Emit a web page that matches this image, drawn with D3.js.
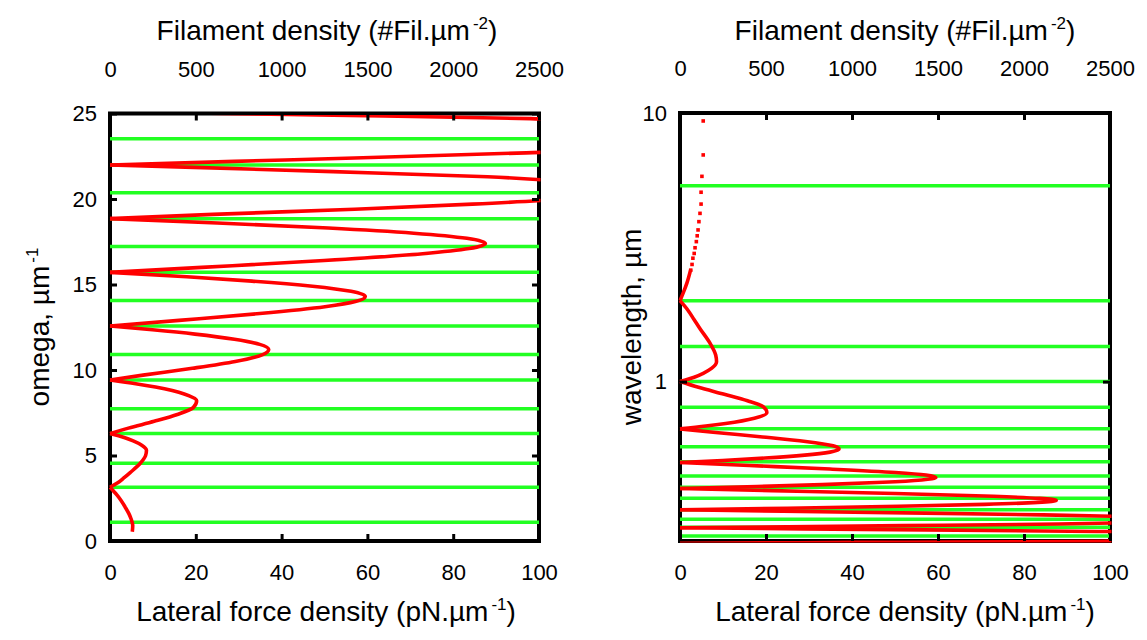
<!DOCTYPE html>
<html>
<head>
<meta charset="utf-8">
<script src="https://cdn.jsdelivr.net/npm/d3@7"></script>
<style>
  body { margin: 0; background: #fff; }
  text { font-family: "Liberation Sans", Arial, sans-serif; fill: #000; }
</style>
</head>
<body>
<svg id="chart" width="1147" height="640"></svg>
<script>
// tick values for every axis
var forceTicks = [0, 20, 40, 60, 80, 100];
var densityTicks = [0, 500, 1000, 1500, 2000, 2500];
var omegaTicks = [0, 5, 10, 15, 20, 25];
var lambdaTicks = [1, 10];

// green horizontal lines (left in omega, right in wavelength)
var greenOmega = [1.1, 3.14, 4.55, 6.28, 7.73, 9.42, 10.9, 12.57, 14.07, 15.71, 17.22, 18.85, 20.37, 21.99, 23.52];
var greenLambda = [5.36, 2.0, 1.35, 1.0, 0.802, 0.668, 0.572, 0.503, 0.445, 0.404, 0.368, 0.333, 0.307, 0.287, 0.266];

// red curve: lateral force density vs omega
var curveOmega = [
  0.54, 0.9, 1.3, 1.6, 2.0, 2.4, 2.7, 2.95, 3.14,
  3.4, 3.7, 4.0, 4.5, 5.0, 5.3, 5.6, 5.85, 6.05, 6.28,
  6.6, 7.0, 7.4, 7.8, 8.2, 8.6, 9.0, 9.2, 9.42,
  9.7, 10.1, 10.5, 10.9, 11.2, 11.5, 11.8, 12.1, 12.35, 12.57,
  12.9, 13.3, 13.7, 14.0, 14.3, 14.6, 14.9, 15.2, 15.45, 15.71,
  16.0, 16.4, 16.8, 17.1, 17.4, 17.7, 18.0, 18.3, 18.6, 18.85,
  19.1, 19.4, 19.7, 20.0, 20.5, 21.0, 21.3, 21.6, 21.85, 21.99,
  22.2, 22.4, 22.7, 23.0, 23.6, 24.2, 24.45, 24.7, 24.9, 25.0, 25.13
];
var curveForce = [
  5.2, 5.3, 4.9, 4.4, 3.5, 2.5, 1.6, 0.7, 0,
  1.8, 3.3, 4.7, 6.9, 8.3, 8.5, 7.4, 5.4, 3.3, 0,
  4.3, 10.3, 15.7, 19.4, 20.2, 17.3, 10.6, 6.0, 0,
  7.7, 19.2, 29.2, 35.6, 37.0, 34.9, 29.0, 19.8, 9.9, 0,
  16.1, 34.9, 50.1, 57.2, 59.5, 56.2, 47.2, 33.1, 17.9, 0,
  21.4, 49.9, 72.9, 83.7, 87.5, 83.2, 70.8, 50.9, 25.0, 0,
  24, 57, 84.5, 106, 121, 107, 88, 52, 19.5, 0,
  29, 57, 97, 135, 160, 135, 122, 98, 52, 27, 0
];

// sparse red points at long wavelengths (right panel)
var dotLambda = [9.34, 6.98, 5.81, 5.07, 4.58, 4.23, 3.94, 3.67, 3.49, 3.32, 3.15, 3.0, 2.88, 2.73, 2.6];
var dotForce = [5.4, 5.4, 5.1, 4.9, 4.9, 4.65, 4.4, 4.2, 4.0, 3.8, 3.5, 3.3, 3.0, 2.8, 2.5];

var RED = '#ff0000', GREEN = '#22ff22';
var svg = d3.select('#chart');

// scales
var xL = d3.scaleLinear().domain([0, 100]).range([110, 539]);
var xLtop = d3.scaleLinear().domain([0, 2500]).range([110, 539]);
var yL = d3.scaleLinear().domain([0, 25]).range([541, 113.5]);
var xR = d3.scaleLinear().domain([0, 100]).range([680, 1110]);
var xRtop = d3.scaleLinear().domain([0, 2500]).range([680, 1110]);
var yR = d3.scaleLog().domain([0.255, 10]).range([541, 113]);

// split the curve into lobes at every zero so the cusps stay sharp
function lobes(ws, fs) {
  var segs = [], cur = [];
  for (var i = 0; i < ws.length; i++) {
    cur.push([ws[i], fs[i]]);
    if (fs[i] === 0 && cur.length > 1) { segs.push(cur); cur = [[ws[i], 0]]; }
  }
  if (cur.length > 1) segs.push(cur);
  return segs;
}
var segs = lobes(curveOmega, curveForce);

function frame(x, y, id) {
  var r = [x.range()[0], y.range()[1], x.range()[1] - x.range()[0], y.range()[0] - y.range()[1]];
  svg.append('rect')
    .attr('x', r[0]).attr('y', r[1]).attr('width', r[2]).attr('height', r[3])
    .attr('fill', 'none').attr('stroke', '#000').attr('stroke-width', 4);
  // curve may sit on the side/bottom frame lines, but stops under the top one
  svg.append('clipPath').attr('id', id).append('rect')
    .attr('x', r[0] - 1.5).attr('y', r[1] + 1.5).attr('width', r[2] + 3).attr('height', r[3]);
}

function styleAxis(g) {
  g.attr('font-size', 22).attr('font-family', '"Liberation Sans", Arial, sans-serif');
  g.select('.domain').remove();
  g.selectAll('.tick line').attr('stroke', '#000').attr('stroke-width', 3);
}

function axes(x, xTop, y, yTicks, fmtY) {
  var xr = x.range(), yr = y.range();
  svg.append('g').attr('transform', 'translate(0,' + yr[0] + ')')
    .call(d3.axisBottom(x).tickValues(forceTicks).tickSize(-7).tickPadding(23)).call(styleAxis);
  svg.append('g').attr('transform', 'translate(0,' + yr[1] + ')')
    .call(d3.axisTop(xTop).tickValues(densityTicks).tickFormat(d3.format('d')).tickSize(-7).tickPadding(37)).call(styleAxis);
  svg.append('g').attr('transform', 'translate(' + xr[0] + ',0)')
    .call(d3.axisLeft(y).tickValues(yTicks).tickFormat(fmtY).tickSize(-7).tickPadding(13)).call(styleAxis);
  svg.append('g').attr('transform', 'translate(' + xr[1] + ',0)')
    .call(d3.axisRight(y).tickValues(yTicks).tickFormat('').tickSize(-7)).call(styleAxis);
}

// text with a superscript part
function label(x, y, main, sup) {
  var t = svg.append('text').attr('font-size', 28).attr('text-anchor', 'middle')
    .attr('transform', 'translate(' + x + ',' + y + ')');
  t.append('tspan').text(main);
  t.append('tspan').attr('font-size', 17).attr('dx', 3).attr('dy', -11).text(sup);
  t.append('tspan').attr('dy', 11).text(')');
}

// ---------- left panel (omega) ----------
frame(xL, yL, 'clipL');
svg.append('g').selectAll('line').data(greenOmega).enter().append('line')
  .attr('x1', xL(0)).attr('x2', xL(100))
  .attr('y1', function(d) { return yL(d); }).attr('y2', function(d) { return yL(d); })
  .attr('stroke', GREEN).attr('stroke-width', 3.5);

var lineL = d3.line()
  .x(function(d) { return xL(d[1]); })
  .y(function(d) { return yL(d[0]); })
  .curve(d3.curveMonotoneY);
svg.append('g').attr('clip-path', 'url(#clipL)').selectAll('path').data(segs).enter().append('path')
  .attr('d', lineL).attr('fill', 'none').attr('stroke', RED).attr('stroke-width', 3.6);

axes(xL, xLtop, yL, omegaTicks, d3.format('d'));

// ---------- right panel (wavelength = 2 pi / omega) ----------
frame(xR, yR, 'clipR');
svg.append('g').selectAll('line').data(greenLambda).enter().append('line')
  .attr('x1', xR(0)).attr('x2', xR(100))
  .attr('y1', function(d) { return yR(d); }).attr('y2', function(d) { return yR(d); })
  .attr('stroke', GREEN).attr('stroke-width', 3.5);

var lineR = d3.line()
  .x(function(d) { return xR(d[1]); })
  .y(function(d) { return yR(2 * Math.PI / d[0]); })
  .curve(d3.curveMonotoneY);
var segsR = segs.map(function(s) {
  return s.filter(function(d) { return d[0] >= 2.4; });
}).filter(function(s) { return s.length > 1; });
var gR = svg.append('g').attr('clip-path', 'url(#clipR)');
gR.selectAll('path').data(segsR).enter().append('path')
  .attr('d', lineR).attr('fill', 'none').attr('stroke', RED).attr('stroke-width', 3.6);
gR.selectAll('rect').data(d3.range(dotLambda.length)).enter().append('rect')
  .attr('x', function(i) { return xR(dotForce[i]) - 1.8; })
  .attr('y', function(i) { return yR(dotLambda[i]) - 1.8; })
  .attr('width', 3.6).attr('height', 3.6).attr('fill', RED);

axes(xR, xRtop, yR, lambdaTicks, d3.format('d'));

// ---------- titles ----------
label(327, 40, 'Filament density (#Fil.\u00b5m', '-2');
label(905, 40, 'Filament density (#Fil.\u00b5m', '-2');
label(326, 621, 'Lateral force density (pN.\u00b5m', '-1');
label(905, 621, 'Lateral force density (pN.\u00b5m', '-1');
// y titles (rotated); omega one has a superscript but no closing bracket
var ty = svg.append('text').attr('font-size', 28).attr('text-anchor', 'middle')
  .attr('transform', 'translate(49,327) rotate(-90)');
ty.append('tspan').text('omega, \u00b5m');
ty.append('tspan').attr('font-size', 17).attr('dx', 3).attr('dy', -11).text('-1');
svg.append('text').attr('font-size', 28).attr('text-anchor', 'middle')
  .attr('transform', 'translate(641,327) rotate(-90)')
  .text('wavelength, \u00b5m');
</script>
</body>
</html>
